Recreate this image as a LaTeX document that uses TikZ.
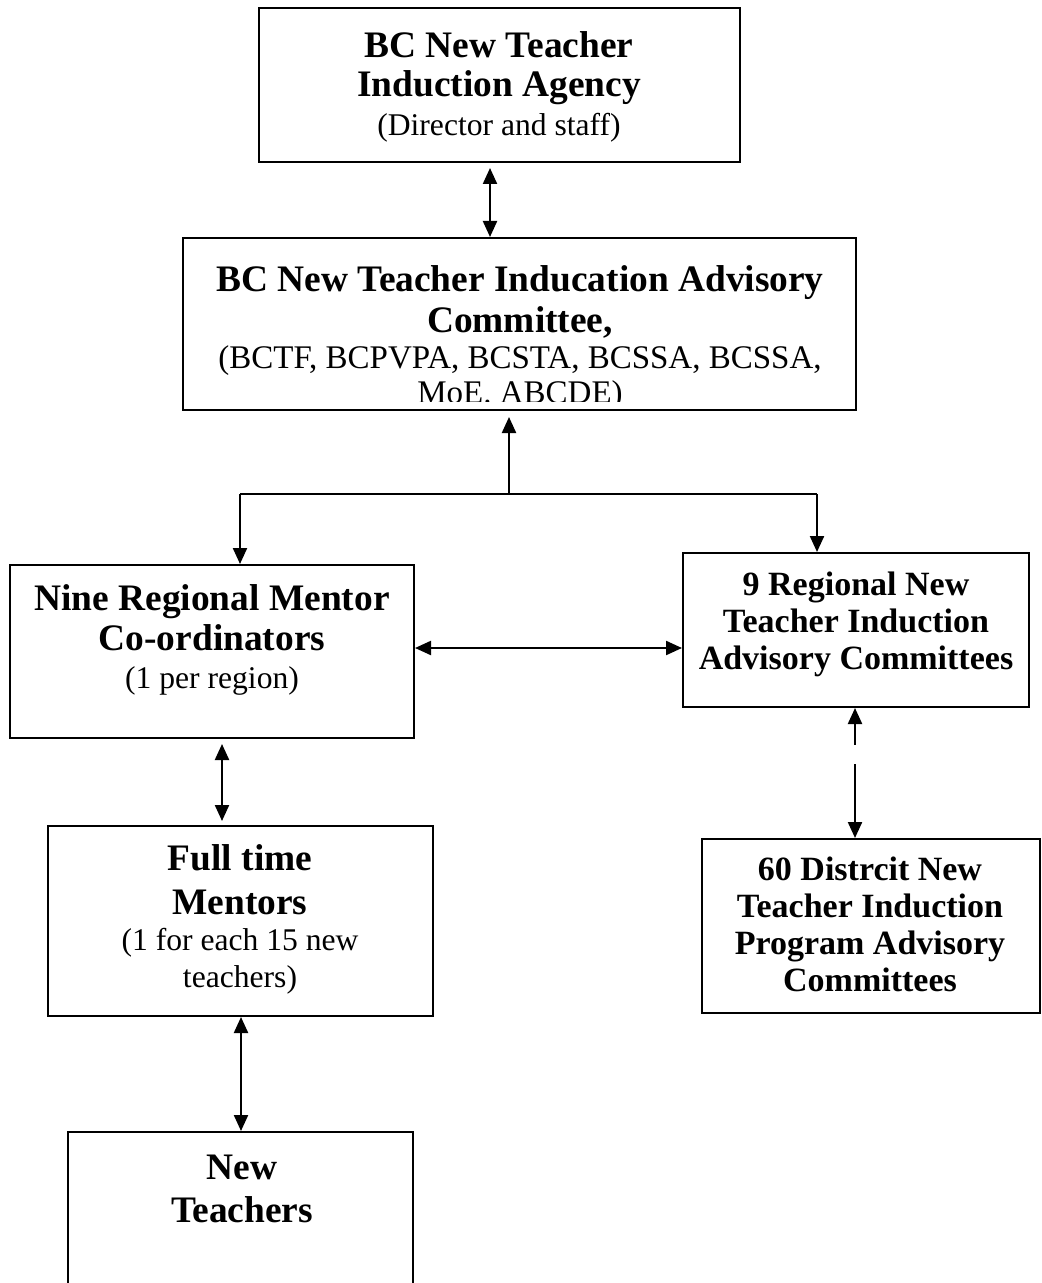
\documentclass[tikz,border=0pt]{standalone}
\usepackage{fontspec}
\setmainfont{Liberation Serif}
\usetikzlibrary{arrows.meta,fit}
\begin{document}
\begin{tikzpicture}[x=0.5pt,y=-0.5pt,
  box/.style={draw,line width=1pt,inner sep=0pt,rectangle},
  conn/.style={line width=1.1pt},
  arr/.style={conn,-{Triangle[length=8pt,width=7pt]}},
  darr/.style={conn,{Triangle[length=8pt,width=7pt]}-{Triangle[length=8pt,width=7pt]}},
  big/.style={anchor=base,inner sep=0pt,font=\fontsize{18.7}{20}\bfseries\selectfont},
  mid/.style={anchor=base,inner sep=0pt,font=\fontsize{17}{18}\bfseries\selectfont},
  reg/.style={anchor=base,inner sep=0pt,font=\fontsize{15.8}{18}\selectfont},
  regl/.style={anchor=base,inner sep=0pt,font=\fontsize{16.5}{18}\selectfont}]
\useasboundingbox (0,0) rectangle (1041,1283);

% boxes
\node[box,fit={(259,8)(740,162)}] (agency) {};
\node[box,fit={(183,238)(856,410)}] (advisory) {};
\node[box,fit={(10,565)(414,738)}] (nine) {};
\node[box,fit={(683,553)(1029,707)}] (reg9) {};
\node[box,fit={(48,826)(433,1016)}] (full) {};
\node[box,fit={(702,839)(1040,1013)}] (dist) {};
\node[box,fit={(68,1132)(413,1300)}] (newt) {};

% texts
\node[big] (a1) at (499,58) {BC New Teacher};
\node[big] (a2) at (499,97) {Induction Agency};
\node[reg] (a3) at (499,136) {(Director and staff)};

\node[big] (b1) at (520,292) {BC New Teacher Inducation Advisory};
\node[big] (b2) at (520,332) {Committee,};
\node[regl] (b3) at (520,368) {(BCTF, BCPVPA, BCSTA, BCSSA, BCSSA,};
\begin{scope}
\clip (183,238) rectangle (856,401);
\node[regl] (b4) at (520,403) {MoE. ABCDE)};
\end{scope}

\node[big] (c1) at (212,610) {Nine Regional Mentor};
\node[big] (c2) at (212,650) {Co-ordinators};
\node[reg] (c3) at (212,688) {(1 per region)};

\node[mid] (d1) at (856,595) {9 Regional New};
\node[mid] (d2) at (856,632) {Teacher Induction};
\node[mid] (d3) at (856,669) {Advisory Committees};

\node[big] (e1) at (240,870) {Full time};
\node[big] (e2) at (240,914) {Mentors};
\node[reg] (e3) at (240,950) {(1 for each 15 new};
\node[reg] (e4) at (240,987) {teachers)};

\node[mid] (f1) at (870,880) {60 Distrcit New};
\node[mid] (f2) at (870,917) {Teacher Induction};
\node[mid] (f3) at (870,954) {Program Advisory};
\node[mid] (f4) at (870,991) {Committees};

\node[big] (g1) at (242,1179) {New};
\node[big] (g2) at (242,1222) {Teachers};

% connectors
\draw[darr,shorten <=2.5pt] (490,0 |- agency.south) -- (490,0 |- advisory.north);

\coordinate (j) at (509,494);
\coordinate (jl) at (240,494);
\coordinate (jr) at (817,494);
\draw[arr,shorten >=3pt] (j) -- (j |- advisory.south);
\draw[conn] (jl) -- (jr);
\draw[arr] (jl) -- (jl |- nine.north);
\draw[arr] (jr) -- (jr |- reg9.north);

\draw[darr] (nine.east |- 0,648) -- (reg9.west |- 0,648);
\draw[darr,shorten <=2.5pt,shorten >=2pt] (222,0 |- nine.south) -- (222,0 |- full.north);
\draw[darr,dash pattern=on 11pt off 9.5pt on 200pt off 1pt] (855,0 |- reg9.south) -- (855,0 |- dist.north);
\draw[darr] (241,0 |- full.south) -- (241,0 |- newt.north);
\end{tikzpicture}
\end{document}
